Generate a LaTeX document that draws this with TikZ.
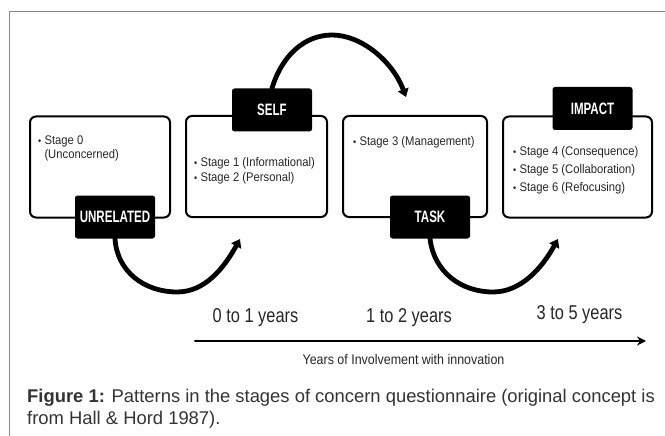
\documentclass[tikz,border=0pt]{standalone}
\usepackage{fontspec}
\setmainfont{Liberation Sans}
\usetikzlibrary{arrows.meta}
\definecolor{frameteal}{RGB}{26,188,156}
\definecolor{captiongray}{RGB}{51,51,51}
\newcommand{\hsq}[2][0.9]{\scalebox{#1}[1]{#2}}
\newcommand{\stagebullet}{{\fontsize{10}{10}\selectfont\textbullet}\hspace{3.5pt}}
\newcommand{\stagelist}[1]{\hsq{\begin{tabular}[t]{@{}l@{}}#1\end{tabular}}}

\begin{document}
\begin{tikzpicture}[x=1pt,y=-1pt,line cap=round,
  stagebox/.style={draw,line width=2pt,rounded corners=6pt,inner sep=0pt,minimum height=101pt},
  tag/.style={fill=black,rounded corners=2.5pt,minimum width=80pt,minimum height=43pt,inner sep=0pt,
    text=white,font=\fontsize{16.5}{18}\selectfont\bfseries},
  stagetext/.style={anchor=base west,inner sep=0pt,text=black!85,font=\fontsize{12.5}{15}\selectfont},
  loop/.style={line width=4.8pt,-{Triangle[length=8pt,width=11pt]}},
  yearlabel/.style={inner sep=0pt,text=black!85,font=\fontsize{20}{24}\selectfont}]
\useasboundingbox (0,0) rectangle (665,436);
\draw[frameteal,line width=1pt] (9,436) -- (9,12) -- (665,12);
% stage boxes
\node[stagebox,minimum width=140pt] (unrelbox) at (100,167) {};
\node[stagebox,minimum width=141pt] (selfbox) at (256.5,166.5) {};
\node[stagebox,minimum width=144pt] (taskbox) at (415,166.5) {};
\node[stagebox,minimum width=149pt] (impactbox) at (577.5,167) {};
\node[stagetext] (unreltext) at (38,144) {\stagelist{\stagebullet Stage 0\\\phantom{\stagebullet}(Unconcerned)}};
\node[stagetext] (selftext) at (194,167) {\stagelist{\stagebullet Stage 1 (Informational)\\\stagebullet Stage 2 (Personal)}};
\node[stagetext] (tasktext) at (353,146) {\stagelist{\stagebullet Stage 3 (Management)}};
\node[stagetext,font=\fontsize{12.5}{18}\selectfont] (impacttext) at (513,155) {\stagelist{\stagebullet Stage 4 (Consequence)\\\stagebullet Stage 5 (Collaboration)\\\stagebullet Stage 6 (Refocusing)}};
% black tags
\node[tag] (unrel) at (115,217) {\hsq[0.7]{UNRELATED}};
\node[tag] (self) at (272,110) {\hsq[0.7]{SELF}};
\node[tag] (task) at (430,217) {\hsq[0.7]{TASK}};
\node[tag] (impact) at (592.5,108.5) {\hsq[0.7]{IMPACT}};
% arcs between tags
\coordinate (selfin) at (240,239);
\coordinate (taskin) at (406,97);
\coordinate (impactin) at (558,239);
\draw[loop] (unrel.south) .. controls (117,272) and (145,292) .. (177,292)
  .. controls (205,292) and (224,268) .. (selfin);
\draw[loop] (self.north) .. controls (282,55) and (305,35) .. (332,35)
  .. controls (362,35) and (393,62) .. (taskin);
\draw[loop] (task.south) .. controls (434,272) and (461,292) .. (493,292)
  .. controls (521,292) and (542,268) .. (impactin);
% time axis
\coordinate (axstart) at (195,341);
\coordinate (axend) at (646,341);
\draw[line width=2pt,-{Stealth[length=9pt,width=9pt]}] (axstart) -- (axend);
\node[yearlabel] (yr1) at (255.5,318) {\hsq[0.82]{0 to 1 years}};
\node[yearlabel] (yr2) at (409,318) {\hsq[0.82]{1 to 2 years}};
\node[yearlabel] (yr3) at (579.5,315) {\hsq[0.82]{3 to 5 years}};
\node[inner sep=0pt,text=black!85,font=\fontsize{14}{16}\selectfont] (axlabel) at (403.5,359) {\hsq[0.89]{Years of Involvement with innovation}};
% caption
\node[anchor=base west,inner sep=0pt,text=captiongray,font=\fontsize{18.4}{22}\selectfont] (caption) at (27,402)
  {\begin{tabular}[t]{@{}l@{}}\textbf{Figure 1:} Patterns in the stages of concern questionnaire (original concept is\\from Hall \& Hord 1987).\end{tabular}};
\end{tikzpicture}
\end{document}
